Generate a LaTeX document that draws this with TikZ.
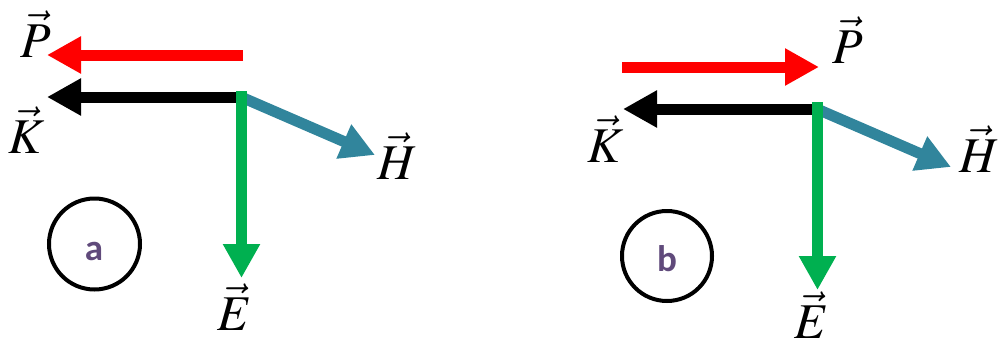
\documentclass[tikz,border=0pt]{standalone}
\usepackage{mathptmx}
\usepackage{fontspec}
\newfontfamily\labfont{Carlito}
\usetikzlibrary{arrows.meta}
\definecolor{vred}{HTML}{FF0000}
\definecolor{vgreen}{HTML}{00B050}
\definecolor{vteal}{HTML}{31859C}
\definecolor{vpurple}{HTML}{604A7B}
\begin{document}
\begin{tikzpicture}[x=1pt,y=-1pt,
  vecarrow/.style={line width=11pt,-{Triangle[length=34pt,width=35pt]}},
  lab/.style={font=\fontsize{50}{60}\selectfont,anchor=base,inner sep=0pt},
  ring/.style={circle,draw=black,line width=4pt,minimum size=91pt,inner sep=0pt},
  tag/.style={font=\labfont\bfseries\fontsize{37}{44}\selectfont,text=vpurple,inner sep=0pt}]
\useasboundingbox (0,0) rectangle (998,340);
% ---------- panel a ----------
\coordinate (Ps1) at (243,55);
\coordinate (Pt1) at (47,55);
\coordinate (O1) at (243,97);
\coordinate (Kt1) at (47,97);
\coordinate (Hs1) at (241,97);
\coordinate (Ht1) at (375,155);
\coordinate (Es1) at (241.5,91);
\coordinate (Et1) at (241.5,278);
\draw[vecarrow,draw=vred,fill=vred] (Ps1) -- (Pt1);
\draw[vecarrow,draw=black,fill=black] (O1) -- (Kt1);
\draw[vecarrow,draw=vteal,fill=vteal] (Hs1) -- (Ht1);
\draw[vecarrow,draw=vgreen,fill=vgreen] (Es1) -- (Et1);
\node[lab] (P1) at (36,57) {$\vec{P}$};
\node[lab] (K1) at (27,153) {$\vec{K}$};
\node[lab] (H1) at (397,179) {$\vec{H}$};
\node[lab] (E1) at (235,330) {$\vec{E}$};
\node[ring] (ca) at (94.5,244) {};
\node[tag] (ta) at (94,251) {a};
% ---------- panel b ----------
\coordinate (Ps2) at (622,67);
\coordinate (Pt2) at (819,67);
\coordinate (O2) at (823,109);
\coordinate (Kt2) at (623,109);
\coordinate (Hs2) at (817,109);
\coordinate (Ht2) at (951,167);
\coordinate (Es2) at (817.5,102);
\coordinate (Et2) at (817.5,290);
\draw[vecarrow,draw=vred,fill=vred] (Ps2) -- (Pt2);
\draw[vecarrow,draw=black,fill=black] (O2) -- (Kt2);
\draw[vecarrow,draw=vteal,fill=vteal] (Hs2) -- (Ht2);
\draw[vecarrow,draw=vgreen,fill=vgreen] (Es2) -- (Et2);
\node[lab] (P2) at (848,63) {$\vec{P}$};
\node[lab] (K2) at (606,162) {$\vec{K}$};
\node[lab] (H2) at (979,172) {$\vec{H}$};
\node[lab] (E2) at (812,338) {$\vec{E}$};
\node[ring,minimum size=90pt] (cb) at (667,256) {};
\node[tag] (tb) at (667,258.5) {b};
\end{tikzpicture}
\end{document}
